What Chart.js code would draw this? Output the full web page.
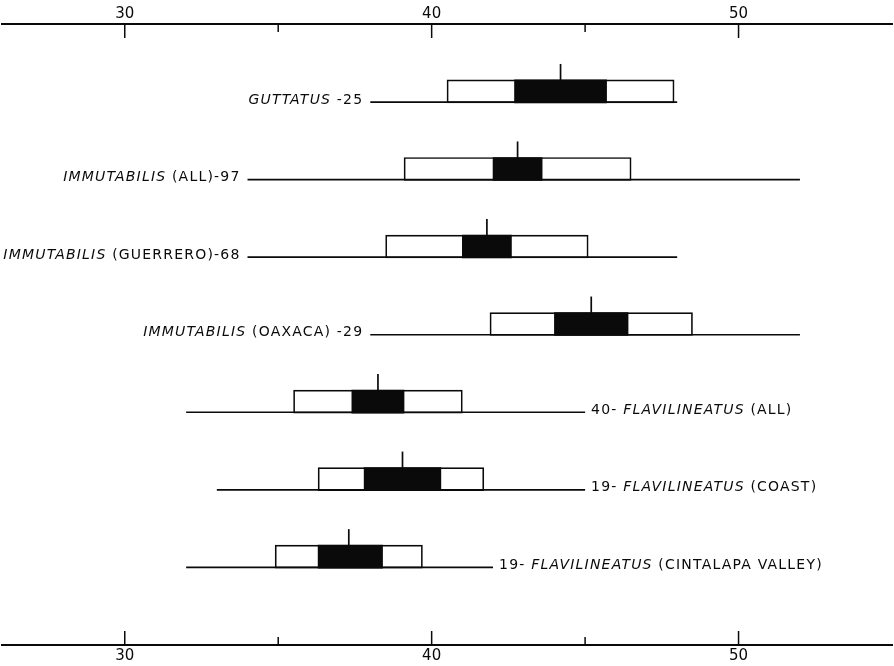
<!DOCTYPE html>
<html>
<head>
<meta charset="utf-8">
<script src="https://cdn.jsdelivr.net/npm/chart.js@4.4.1/dist/chart.umd.min.js"></script>
<style>
  html, body { margin: 0; padding: 0; background: #ffffff; }
  #wrap { width: 894px; height: 666px; }
</style>
</head>
<body>
<div id="wrap"><canvas id="c" width="894" height="666"></canvas></div>
<script>
// ---------------- data ----------------
const groups = [
  "guttatus", "immutabilis (all)", "immutabilis (Guerrero)", "immutabilis (Oaxaca)",
  "flavilineatus (all)", "flavilineatus (coast)", "flavilineatus (Cintalapa Valley)"
];
const labelBefore = ["", "", "", "", "40- ", "19- ", "19- "];
const labelItalic = ["GUTTATUS", "IMMUTABILIS", "IMMUTABILIS", "IMMUTABILIS",
                     "FLAVILINEATUS", "FLAVILINEATUS", "FLAVILINEATUS"];
const labelAfter  = [" -25", " (ALL)-97", " (GUERRERO)-68", " (OAXACA) -29",
                     " (ALL)", " (COAST)", " (CINTALAPA VALLEY)"];
const sampleSize  = [25, 97, 68, 29, 40, 19, 19];

const rangeMin = [38, 34, 34, 38, 32, 33, 32];
const rangeMax = [48, 52, 48, 52, 45, 45, 42];
const means    = [44.2, 42.8, 41.8, 45.2, 38.25, 39.05, 37.3];
const sdLo     = [40.5, 39.1, 38.5, 41.9, 35.5, 36.3, 34.9];
const sdHi     = [47.9, 46.5, 45.1, 48.5, 41.0, 41.7, 39.7];
const seLo     = [42.7, 42.0, 41.0, 44.0, 37.4, 37.8, 36.3];
const seHi     = [45.7, 43.6, 42.6, 46.4, 39.1, 40.3, 38.4];

const majorTicks = [30, 40, 50];
const minorTicks = [35, 45];

// ---------------- styling ----------------
const INK = "#0a0a0a";
const BAR = 23;            // box height in px
const MEAN_TICK = 16;      // mean tick length above the box
const LABEL_FONT = "DejaVu Sans";
const rowIndex = groups.map((_, i) => i);

function drawMixed(ctx, parts, x, y, align) {
  ctx.save();
  ctx.letterSpacing = "1.2px";
  ctx.textBaseline = "alphabetic";
  ctx.textAlign = "left";
  const widths = parts.map(p => { ctx.font = p.font; return ctx.measureText(p.text).width; });
  const total = widths.reduce((a, b) => a + b, 0);
  let cx = align === "right" ? x - total : x;
  parts.forEach((p, k) => {
    ctx.font = p.font;
    ctx.fillStyle = INK;
    ctx.fillText(p.text, cx, y);
    cx += widths[k];
  });
  ctx.restore();
}

const diagramPlugin = {
  id: "diagram",
  afterDatasetsDraw(chart) {
    const { ctx, scales } = chart;
    const x = scales.x, y = scales.y, x2 = scales.x2;
    const half = BAR / 2;
    ctx.save();
    ctx.strokeStyle = INK;
    ctx.lineWidth = 1.7;
    rowIndex.forEach(i => {
      const yc = y.getPixelForValue(i);
      const yb = yc + half - 0.8;
      const x0 = x.getPixelForValue(rangeMin[i]);
      const x1 = x.getPixelForValue(rangeMax[i]);
      ctx.beginPath(); ctx.moveTo(x0, yb); ctx.lineTo(x1, yb); ctx.stroke();
      const xm = x.getPixelForValue(means[i]);
      ctx.beginPath(); ctx.moveTo(xm, yc - half + 1); ctx.lineTo(xm, yc - half - MEAN_TICK); ctx.stroke();
      const parts = [];
      const fs = "14px '" + LABEL_FONT + "'";
      if (labelBefore[i]) parts.push({ text: labelBefore[i], font: fs });
      parts.push({ text: labelItalic[i], font: "italic " + fs });
      parts.push({ text: labelAfter[i], font: fs });
      if (labelBefore[i]) drawMixed(ctx, parts, x1 + 6, yb + 1.5, "left");
      else drawMixed(ctx, parts, x0 - 7, yb + 1.5, "right");
    });
    // inward tick marks on both axes
    ctx.lineWidth = 1.5;
    const drawTick = (v, len) => {
      const px = x.getPixelForValue(v);
      ctx.beginPath(); ctx.moveTo(px, x2.bottom); ctx.lineTo(px, x2.bottom + len); ctx.stroke();
      ctx.beginPath(); ctx.moveTo(px, x.top); ctx.lineTo(px, x.top - len); ctx.stroke();
    };
    majorTicks.forEach(v => drawTick(v, 14));
    minorTicks.forEach(v => drawTick(v, 8));
    ctx.restore();
  }
};

const axisCommon = (pos, pad) => ({
  type: "linear",
  position: pos,
  min: 26,
  max: 55,
  offset: false,
  ticks: {
    stepSize: 5,
    autoSkip: false,
    maxRotation: 0,
    padding: pad,
    color: INK,
    font: { family: "DejaVu Sans", size: 15 },
    callback: v => majorTicks.includes(v) ? String(v) : ""
  },
  grid: { display: true, drawOnChartArea: false, drawTicks: false },
  border: { display: true, color: INK, width: 2 }
});

new Chart(document.getElementById("c").getContext("2d"), {
  type: "bar",
  data: {
    labels: groups,
    datasets: [
      {
        label: "2 standard errors",
        data: rowIndex.map(i => ({ y: i, x: [seLo[i], seHi[i]] })),
        backgroundColor: INK,
        borderWidth: 0,
        barThickness: BAR,
        grouped: false,
        order: 0,
        xAxisID: "x", yAxisID: "y"
      },
      {
        label: "standard deviation",
        data: rowIndex.map(i => ({ y: i, x: [sdLo[i], sdHi[i]] })),
        backgroundColor: "#ffffff",
        borderColor: INK,
        borderWidth: 1.7,
        borderSkipped: false,
        barThickness: BAR,
        grouped: false,
        order: 1,
        xAxisID: "x", yAxisID: "y"
      }
    ]
  },
  options: {
    indexAxis: "y",
    responsive: false,
    animation: false,
    layout: { padding: { top: 4, bottom: -1, left: 0, right: 0 } },
    plugins: { legend: { display: false }, tooltip: { enabled: false } },
    scales: {
      x: axisCommon("bottom", 2),
      x2: axisCommon("top", 1),
      y: { type: "linear", reverse: true, min: -0.87, max: 7.14, offset: false, display: false }
    }
  },
  plugins: [diagramPlugin]
});
</script>
</body>
</html>
